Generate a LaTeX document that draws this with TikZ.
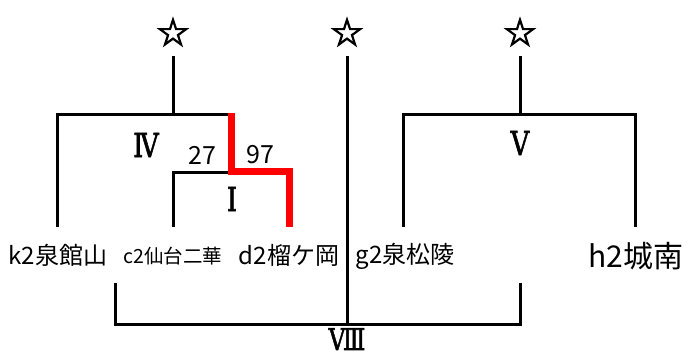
\documentclass[tikz,border=0pt]{standalone}
\usepackage{fontspec}
\newfontfamily\jpfont{Noto Sans CJK JP}
\newfontfamily\romfont[FakeBold=2]{DejaVu Serif}
\newfontfamily\starfont[FakeBold=3]{DejaVu Sans}
\tikzset{
  bar/.style={line width=3pt,line cap=rect},
  winbar/.style={line width=7pt,red,line join=miter},
  team/.style={inner sep=0pt,font=\jpfont\fontsize{24}{24}\selectfont},
  smallteam/.style={team,font=\jpfont\fontsize{19.5}{20}\selectfont},
  bigteam/.style={team,font=\jpfont\fontsize{30}{30}\selectfont},
  seed/.style={inner sep=0pt,font=\starfont\fontsize{38}{38}\selectfont},
  game/.style={inner sep=0pt,font=\romfont\fontsize{33}{33}\selectfont},
  score/.style={inner sep=0pt,font=\jpfont\fontsize{25}{25}\selectfont}
}
\newcommand{\narrow}[1]{\scalebox{0.78}[1]{#1}}
\begin{document}
\begin{tikzpicture}[x=1pt,y=-1pt]
\useasboundingbox (0,0) rectangle (689,358);

% seeds
\node[seed] (s1) at (173,32) {☆};
\node[seed] (s2) at (347,32) {☆};
\node[seed] (s3) at (520,32) {☆};

% teams
\node[team] (k2) at (58,255) {k2泉館山};
\node[smallteam] (c2) at (173,256) {c2仙台二華};
\node[team] (d2) at (289,255) {d2榴ケ岡};
\node[team] (g2) at (405,256) {g2泉松陵};
\node[bigteam] (h2) at (636,256) {h2城南};

% left block
\draw[bar] (173,58) -- (173,115);
\draw[bar] (57,226) |- (231,115);
\draw[bar] (173,226) |- (231,173);
\draw[winbar] (231,113.5) -- (231,172) -| (289,227);

% centre
\draw[bar] (347,58) -- (347,325);

% right block
\draw[bar] (520,58) -- (520,115);
\draw[bar] (403,226) |- (635,115) -- (635,226);

% bottom
\draw[bar] (115,285) |- (520,325) -- (520,285);

% labels
\node[game] (g4) at (146,145) {\narrow{Ⅳ}};
\node[score] (sc1) at (202,155) {27};
\node[score] (sc2) at (260,155) {97};
\node[game] (g1) at (232,199) {\narrow{Ⅰ}};
\node[game] (g5) at (520,143) {\narrow{Ⅴ}};
\node[game,font=\romfont\fontsize{30}{30}\selectfont,anchor=base,text depth=0pt] (g8) at (347,350) {\narrow{Ⅷ}};
\end{tikzpicture}
\end{document}
